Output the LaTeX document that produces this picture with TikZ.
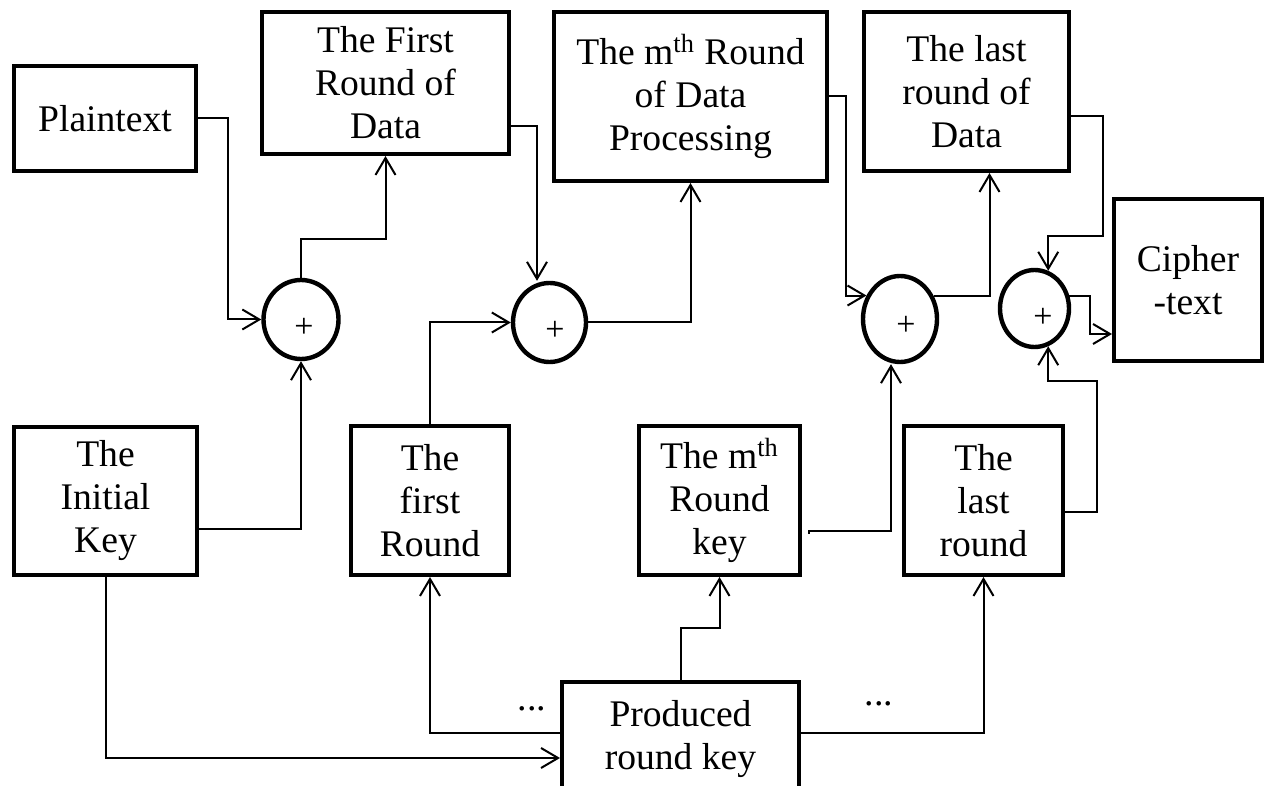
\documentclass[tikz,border=0pt]{standalone}
\usepackage{fontspec}
\setmainfont{Liberation Serif}
\usetikzlibrary{arrows.meta,shapes.geometric,calc}
\begin{document}
\begin{tikzpicture}[x=0.5pt,y=-0.5pt,
  box/.style={draw, line width=2pt, inner sep=0pt, align=center, font=\fontsize{18.8}{21.5}\selectfont},
  xor/.style={draw, ellipse, line width=2.2pt, inner sep=0pt},
  conn/.style={line width=1pt, -{Straight Barb[length=8.5pt,width=10pt]}},
  plus/.style={font=\fontsize{17}{17}\selectfont, inner sep=0pt},
  dots/.style={font=\fontsize{19}{21.5}\selectfont, inner sep=0pt, anchor=base}]
\useasboundingbox (0,0) rectangle (1265,786);
\clip (0,0) rectangle (1265,786);
% boxes
\node[box, minimum width=91pt, minimum height=52.5pt] (plain) at (105,118.5) {Plaintext};
\node[box, minimum width=123.5pt, minimum height=71pt] (frd) at (385.5,83) {The First\\Round of\\Data};
\node[box, minimum width=136.5pt, minimum height=84.5pt] (mrd) at (690.5,96.5) {The m\textsuperscript{th} Round\\of Data\\Processing};
\node[box, minimum width=102.5pt, minimum height=79.5pt] (lrd) at (966.5,91.5) {The last\\round of\\Data};
\node[box, minimum width=74pt, minimum height=81pt] (cip) at (1188,280) {Cipher\\-text};
\node[box, minimum width=91.5pt, minimum height=74pt] (ik) at (105.5,501) {The\\Initial\\Key};
\node[box, minimum width=79pt, minimum height=74.5pt] (frk) at (430,500.5) {The\\first\\Round};
\node[box, minimum width=80.5pt, minimum height=74.5pt] (mrk) at (719.5,500.5) {The m\textsuperscript{th}\\Round\\key};
\node[box, minimum width=79.5pt, minimum height=74.5pt] (lrk) at (983.5,500.5) {The\\last\\round};
\node[box, minimum width=118.5pt, minimum height=57pt] (prk) at (680.5,739) {Produced\\round key};
% xor circles
\node[xor, minimum width=37.5pt, minimum height=39.5pt] (c1) at (301,319.5) {};
\node[xor, minimum width=36.5pt, minimum height=39.5pt] (c2) at (549.5,322.5) {};
\node[xor, minimum width=37pt, minimum height=43pt] (c3) at (900,319) {};
\node[xor, minimum width=34.5pt, minimum height=38.5pt] (c4) at (1034.5,308.5) {};
\node[plus] (p1) at (304,327.5) {+};
\node[plus] (p2) at (555,331) {+};
\node[plus] (p3) at (906,326) {+};
\node[plus] (p4) at (1043,317.5) {+};
% connectors
\draw[conn] (plain.east) -| ([xshift=-16.5pt]c1.west) -- (c1.west);
\draw[conn] (c1.north) |- ([yshift=-41.5pt]frd.south) -- (frd.south);
\draw[conn] ([yshift=-14pt]ik.east) -| (c1.south);
\draw[conn] ([yshift=-21.5pt]frd.east) -| ([xshift=-6.25pt]c2.north);
\draw[conn] (frk.north) |- (c2.west);
\draw[conn] (c2.east) -| (mrd.south);
\draw[conn] (mrd.east) -| ([xshift=-10.5pt]c3.145) -- (c3.145);
\draw[conn] (c3.35) -| ([xshift=11.5pt]lrd.south);
\draw[conn] ([yshift=-12.25pt]lrd.east) -| ([xshift=16pt,yshift=-31.5pt]lrd.south east) -| (c4.70);
\draw[conn] (c4.20) -| ([xshift=-11pt,yshift=-27pt]cip.west) -- ([yshift=-27pt]cip.west);
\draw[conn] ([yshift=-5.75pt]lrk.east) -| ([xshift=16pt,yshift=21.5pt]lrk.north east) -| (c4.-70);
\draw[conn] ([xshift=3.5pt,yshift=-16.5pt]mrk.east) -- ++(0,-3) -| ([xshift=-4.5pt]c3.south);
\draw[conn] (ik.south) |- ([yshift=-9.5pt]prk.west);
\draw[conn] ([yshift=3pt]prk.west) -| (frk.south);
\draw[conn] (prk.north) -- ++(0,-52.5) -| (mrk.south);
\draw[conn] ([yshift=3pt]prk.east) -| (lrk.south);
% dots
\node[dots] (d1) at (532,710) {...};
\node[dots] (d2) at (879,705) {...};
\end{tikzpicture}
\end{document}
